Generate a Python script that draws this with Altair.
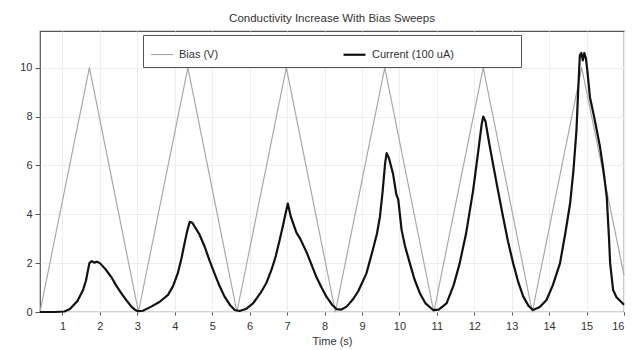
import altair as alt
import pandas as pd

# Bias triangle sweep vertices (s, V)
bias_time = [0.4, 1.72, 3.03, 4.35, 5.66, 6.98, 8.29, 9.61, 10.92, 12.24, 13.55, 14.87, 16.0]
bias_value = [0, 10, 0, 10, 0, 10, 0, 10, 0, 10, 0, 10, 1.5]

# Current trace (100 uA units)
cur_time = [0.4, 0.8, 1.05, 1.2, 1.4, 1.55, 1.63, 1.68, 1.72, 1.78, 1.85, 1.92, 2.0, 2.15, 2.3,
            2.45, 2.57, 2.7, 2.84, 2.95, 3.02, 3.15, 3.37, 3.6, 3.82, 3.95, 4.08, 4.18, 4.26,
            4.33, 4.40, 4.47, 4.53, 4.65, 4.80, 4.93, 5.06, 5.2, 5.33, 5.47, 5.6, 5.73, 5.9,
            6.09, 6.3, 6.45, 6.58, 6.7, 6.80, 6.9, 6.97, 7.02, 7.1, 7.25, 7.35, 7.52, 7.65,
            7.78, 7.92, 8.05, 8.2, 8.32, 8.45, 8.59, 8.75, 8.9, 9.12, 9.3, 9.4, 9.48, 9.55,
            9.62, 9.66, 9.72, 9.83, 9.92, 9.97, 10.06, 10.15, 10.28, 10.4, 10.55, 10.7, 10.9,
            11.05, 11.26, 11.45, 11.61, 11.78, 11.97, 12.1, 12.2, 12.24, 12.3, 12.4, 12.5,
            12.63, 12.77, 12.9, 13.04, 13.18, 13.31, 13.45, 13.57, 13.75, 13.93, 14.1, 14.29,
            14.43, 14.56, 14.65, 14.73, 14.78, 14.82, 14.86, 14.9, 14.94, 14.98, 15.02, 15.09,
            15.2, 15.36, 15.45, 15.54, 15.6, 15.63, 15.71, 15.8, 15.9, 16.0]
cur_value = [0.0, 0.0, 0.02, 0.12, 0.45, 0.9, 1.3, 1.7, 2.0, 2.08, 2.02, 2.06, 2.0, 1.75, 1.44,
             1.05, 0.77, 0.5, 0.22, 0.08, 0.03, 0.05, 0.22, 0.42, 0.7, 1.05, 1.58, 2.2, 2.8,
             3.3, 3.69, 3.65, 3.5, 3.2, 2.67, 2.1, 1.58, 1.05, 0.63, 0.3, 0.08, 0.04, 0.12,
             0.35, 0.8, 1.2, 1.71, 2.3, 2.94, 3.6, 4.1, 4.44, 3.9, 3.25, 3.0, 2.45, 1.95,
             1.44, 1.0, 0.63, 0.3, 0.12, 0.1, 0.22, 0.5, 0.85, 1.58, 2.6, 3.2, 3.89, 4.9,
             6.1, 6.5, 6.3, 5.66, 4.8, 4.6, 3.35, 2.7, 1.99, 1.35, 0.76, 0.35, 0.08,
             0.1, 0.35, 1.1, 1.99, 3.2, 4.98, 6.5, 7.7, 8.0, 7.8, 6.9, 6.07,
             5.0, 3.89, 2.9, 1.99, 1.2, 0.63, 0.25, 0.08, 0.2, 0.49, 1.1, 1.99,
             3.2, 4.44, 5.8, 7.43, 9.2, 10.5, 10.6, 10.3, 10.6, 10.4, 9.9, 8.79,
             8.0, 6.75, 5.8, 4.7, 3.0, 1.99, 0.9, 0.6, 0.45, 0.3]

series_names = ["Bias (V)", "Current (100 uA)"]
x_ticks = list(range(1, 17))
y_ticks = [0, 2, 4, 6, 8, 10]

df = pd.concat([
    pd.DataFrame({"t": bias_time, "v": bias_value, "series": series_names[0]}),
    pd.DataFrame({"t": cur_time, "v": cur_value, "series": series_names[1]}),
])

FONT = "Liberation Sans"

chart = alt.Chart(df).mark_line(strokeJoin="round").encode(
    x=alt.X("t:Q", title="Time (s)",
            scale=alt.Scale(domain=[0.4, 16], nice=False, zero=False),
            axis=alt.Axis(values=x_ticks, grid=True, gridColor="#eeeeee", tickSize=3,
                          labelPadding=5, titlePadding=4, domain=False)),
    y=alt.Y("v:Q", title=None,
            scale=alt.Scale(domain=[0, 11.5], nice=False),
            axis=alt.Axis(values=y_ticks, grid=True, gridColor="#eeeeee", tickSize=5,
                          labelPadding=3, domain=False)),
    color=alt.Color("series:N", scale=alt.Scale(domain=series_names, range=["#a8a8a8", "#111111"]),
                    legend=alt.Legend(title="\u00a0", titleOrient="right", titlePadding=60,
                                      orient="none", legendX=103, legendY=4,
                                      direction="horizontal", columnPadding=120,
                                      symbolType="stroke", symbolSize=484,
                                      symbolStrokeWidth=1.5, labelOffset=5,
                                      padding=7, strokeColor="#555555", fillColor="white",
                                      labelFontSize=11, labelFont=FONT, labelColor="#333333")),
    strokeWidth=alt.StrokeWidth("series:N", scale=alt.Scale(domain=series_names, range=[1.2, 2.2]),
                                legend=None),
).properties(
    width=584, height=281,
    title=alt.TitleParams("Conductivity Increase With Bias Sweeps", fontSize=11.5, font=FONT,
                          fontWeight="normal", color="#333333", offset=7),
    padding={"left": 32, "top": 23, "right": 4, "bottom": 36},
    autosize=alt.AutoSizeParams(type="none"),
).configure_view(stroke="#555555", strokeWidth=1.2).configure_axis(
    labelFont=FONT, titleFont=FONT, labelFontSize=11, titleFontSize=11,
    labelColor="#333333", titleColor="#333333", tickColor="#555555", titleFontWeight="normal"
)

chart.save("out.html", embed_options={"renderer": "svg", "actions": False})
